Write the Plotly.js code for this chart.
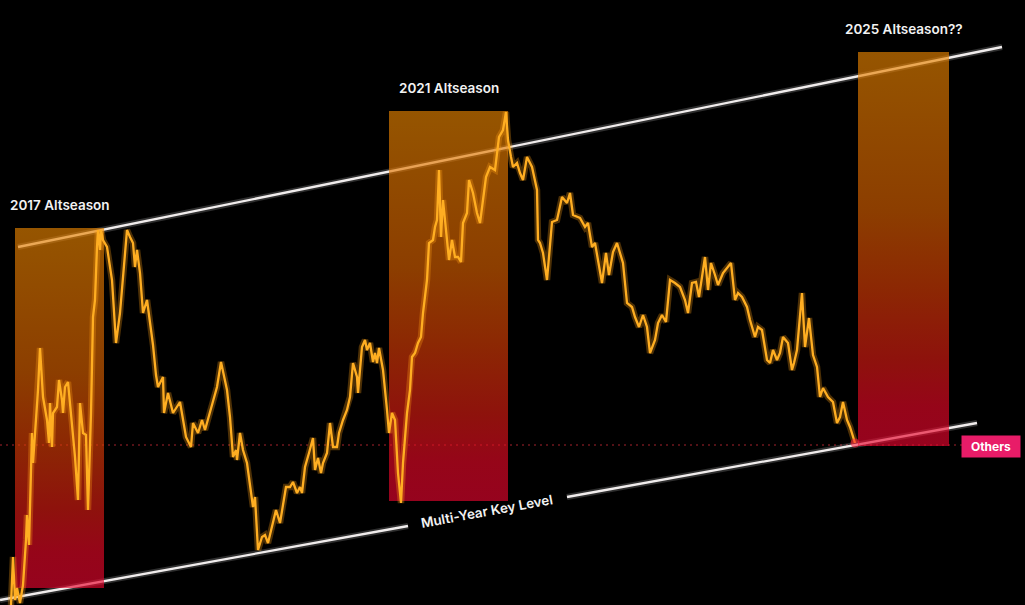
<!DOCTYPE html>
<html>
<head>
<meta charset="utf-8">
<script src="https://cdn.plot.ly/plotly-3.0.1.min.js"></script>
<style>html,body{margin:0;padding:0;background:#000;}#chart{width:1025px;height:605px;}</style>
</head>
<body>
<div id="chart"></div>
<script>
// Price path (x = time position, y = chart level, axis reversed)
const priceX = [11,13,15,17,20,23,26,27,29,31,32,33,35,38,40,43,47,49,50,52,53,57,59,62,63,65,68,72,75,78,80,83,86,88,91,93,95,97,98,100,101,103,107,112,116,120,123,127,130,133,135,137,140,143,147,150,153,156,158,163,164,168,173,180,186,191,193,198,202,205,210,217,221,227,230,233,236,237,240,243,247,250,253,255,258,262,265,268,272,276,280,283,286,290,293,297,300,302,305,309,313,315,318,321,323,327,330,333,337,339,343,347,350,353,357,358,362,365,367,370,373,375,377,379,383,387,389,392,395,398,401,403,407,410,412,415,418,421,423,427,429,433,435,437,439,441,443,446,449,452,455,458,461,463,467,469,473,477,480,483,486,490,495,499,503,506,508,511,513,517,520,523,527,532,535,537,538,540,543,547,552,557,562,567,570,573,580,585,588,592,595,602,606,609,613,617,620,623,627,632,635,639,643,647,650,655,658,662,666,670,675,680,685,688,692,696,699,702,705,708,711,715,718,723,728,731,735,738,742,747,750,755,758,762,767,770,773,777,780,783,788,792,794,797,802,805,809,813,817,820,823,828,833,837,840,843,847,850,855];
const priceY = [605,557,600,588,603,585,540,515,545,470,433,463,433,390,348,397,420,443,403,447,413,407,380,400,413,387,382,423,457,500,403,433,435,510,413,317,300,247,230,250,230,240,247,280,343,313,280,230,237,243,267,250,273,313,300,320,345,375,387,377,413,393,413,402,437,447,423,433,420,430,412,387,362,390,417,457,450,460,433,450,463,487,507,497,550,537,535,543,527,510,523,503,487,487,482,493,487,493,467,453,438,470,458,473,463,453,423,447,447,433,420,410,397,363,377,393,347,340,350,343,362,353,363,348,370,410,433,413,420,473,503,463,413,390,357,353,343,337,313,280,243,240,227,220,170,237,200,230,260,240,257,257,262,223,213,180,193,213,223,200,177,167,170,137,130,112,140,157,167,163,173,180,157,167,183,190,240,243,253,280,222,220,197,203,193,215,218,227,223,247,243,283,253,275,252,243,253,263,303,307,317,327,315,327,353,340,323,315,322,280,283,287,300,313,283,282,297,277,257,290,263,275,285,273,267,263,300,293,297,307,320,337,327,330,360,363,350,360,353,337,343,370,363,350,293,347,318,355,367,397,388,397,402,423,417,402,420,427,443];

// Altseason windows
const seasonLabels = ["2017 Altseason", "2021 Altseason", "2025 Altseason??"];
const seasonStart = [15, 389, 858];
const seasonEnd = [104, 508, 949];
const seasonTop = [228, 111, 52];
const seasonBottom = [588, 501, 446];

// Channel lines
const upperX = [18, 1002];
const upperY = [247, 47];
const keyLevelX = [0, 408, null, 567, 977];
const keyLevelY = [600, 526, null, 497, 423];
const keyLevelLabel = "Multi-Year Key Level";
const keyLevelLabelX = 487, keyLevelLabelY = 511;

// Current level
const currentLevel = 445;
const currentLevelEnd = 962;
const currentLabel = "Others";

const FONT = "Inter, 'Open Sans', sans-serif";
const traces = [];

// dotted current level line
traces.push({x:[0, currentLevelEnd], y:[currentLevel, currentLevel], mode:'lines', hoverinfo:'skip',
  line:{color:'rgb(165,35,45)', width:1.2, dash:'2px,4px'}});

// trend lines with glow
traces.push({x:upperX, y:upperY, mode:'lines', hoverinfo:'skip', line:{color:'rgba(255,255,255,0.18)', width:6}});
traces.push({x:upperX, y:upperY, mode:'lines', hoverinfo:'skip', line:{color:'rgb(240,236,236)', width:2.3}});
traces.push({x:keyLevelX, y:keyLevelY, mode:'lines', hoverinfo:'skip', connectgaps:false, line:{color:'rgba(255,255,255,0.18)', width:6}});
traces.push({x:keyLevelX, y:keyLevelY, mode:'lines', hoverinfo:'skip', connectgaps:false, line:{color:'rgb(240,236,236)', width:2.3}});

// gradient boxes
for (let i = 0; i < seasonLabels.length; i++) {
  const x0 = seasonStart[i], x1 = seasonEnd[i], t = seasonTop[i], b = seasonBottom[i];
  traces.push({
    x:[x0, x1, x1, x0, x0], y:[t, t, b, b, t], mode:'lines', fill:'toself', hoverinfo:'skip',
    line:{width:0, color:'rgba(0,0,0,0)'}, opacity:0.64,
    fillgradient:{type:'vertical', start:t, stop:b,
      colorscale:[[0,'rgb(234,133,0)'],[0.4,'rgb(219,97,0)'],[0.6,'rgb(219,62,5)'],[0.78,'rgb(222,28,19)'],[0.9,'rgb(234,8,39)'],[1,'rgb(234,5,47)']]}
  });
}

// price line glow + line
traces.push({x:priceX, y:priceY, mode:'lines', hoverinfo:'skip', line:{color:'rgba(255,160,20,0.3)', width:6.5, shape:'linear'}});
traces.push({x:priceX, y:priceY, mode:'lines', hoverinfo:'skip', line:{color:'rgb(255,174,34)', width:2.3, shape:'linear'}});
// end glow
traces.push({x:[priceX[priceX.length-1]], y:[priceY[priceY.length-1]], mode:'markers', hoverinfo:'skip',
  marker:{color:'rgba(255,30,60,0.55)', size:9}});

const annotations = seasonLabels.map((s, i) => ({
  x:(seasonStart[i] + seasonEnd[i]) / 2, y:seasonTop[i] - 23, xref:'x', yref:'y', text:s, showarrow:false,
  xanchor:'center', yanchor:'middle', font:{family:FONT, size:13.5, color:'#f2f2f2', weight:600}
}));
annotations.push({x:keyLevelLabelX, y:keyLevelLabelY, xref:'x', yref:'y', text:keyLevelLabel, showarrow:false,
  textangle:-10.3, xanchor:'center', yanchor:'middle', font:{family:FONT, size:13.5, color:'#f2f2f2', weight:600}});
annotations.push({x:991, y:currentLevel + 1, xref:'x', yref:'y', text:currentLabel, showarrow:false,
  xanchor:'center', yanchor:'middle', bgcolor:'rgb(232,28,104)', borderpad:3, width:52, height:15,
  font:{family:FONT, size:12, color:'#ffffff', weight:700}});

const layout = {
  width:1025, height:605, margin:{l:0, r:0, t:0, b:0},
  paper_bgcolor:'#000', plot_bgcolor:'#000', showlegend:false,
  xaxis:{range:[0,1025], visible:false, fixedrange:true},
  yaxis:{range:[605,0], visible:false, fixedrange:true},
  annotations:annotations
};
Plotly.newPlot('chart', traces, layout, {displayModeBar:false, staticPlot:true});
</script>
</body>
</html>
